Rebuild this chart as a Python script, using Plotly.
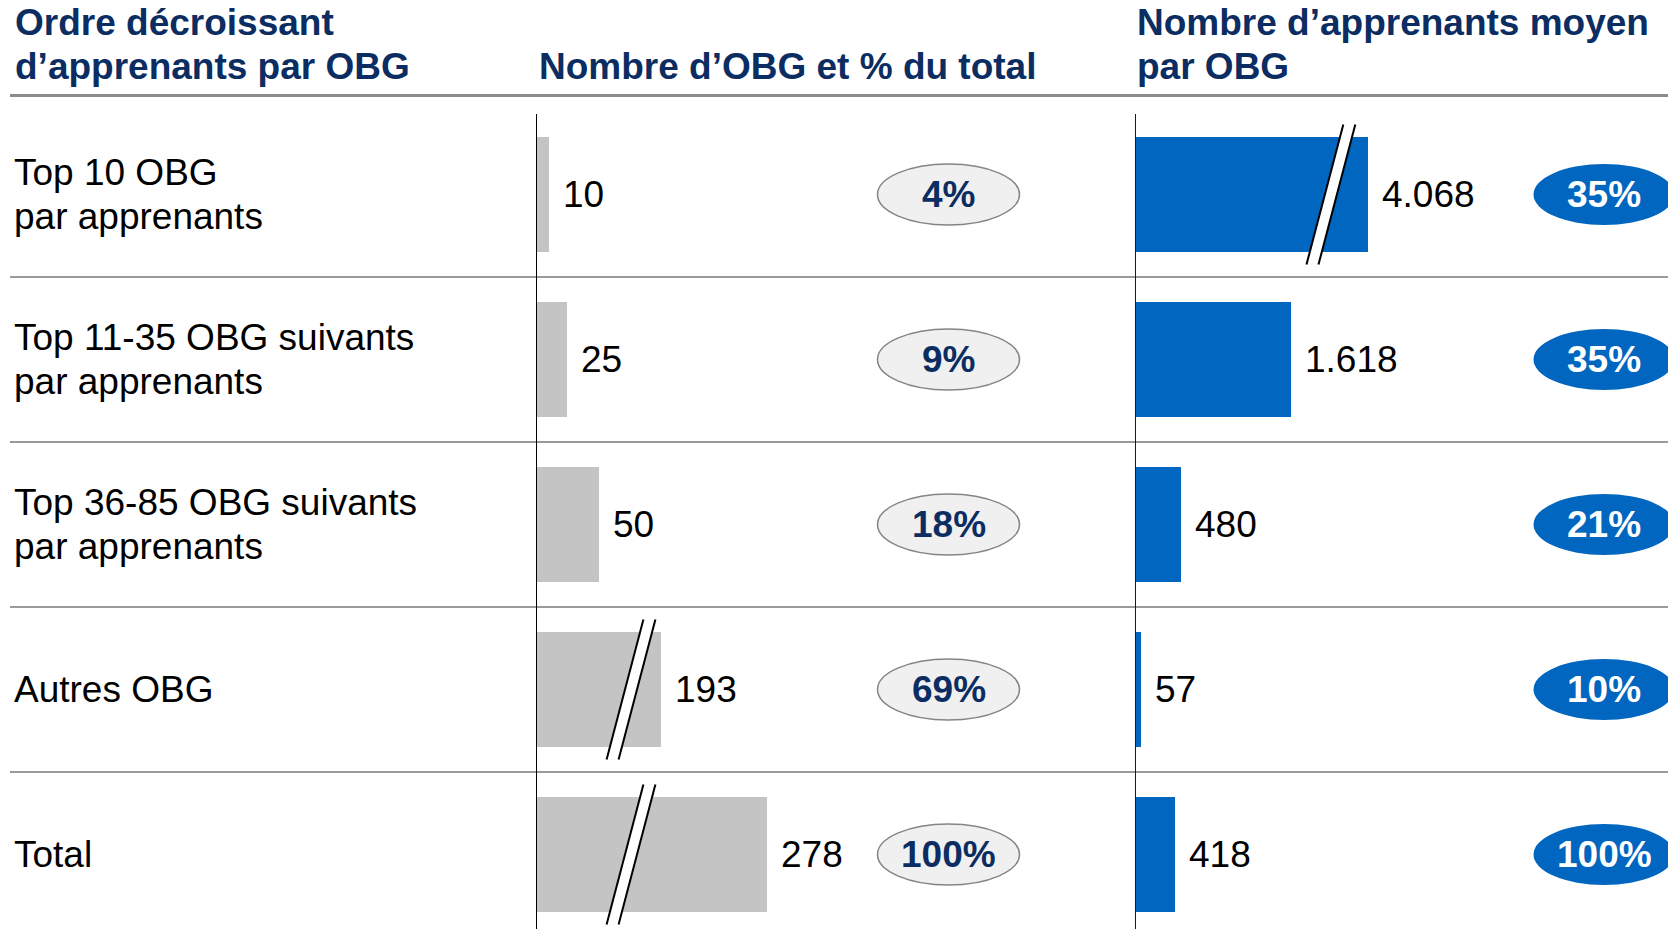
import plotly.graph_objects as go

# ---------------- data ----------------
categories = [
    "Top 10 OBG<br>par apprenants",
    "Top 11-35 OBG suivants<br>par apprenants",
    "Top 36-85 OBG suivants<br>par apprenants",
    "Autres OBG",
    "Total",
]
nb_obg = [10, 25, 50, 193, 278]
nb_obg_labels = ["10", "25", "50", "193", "278"]
pct_obg = ["4%", "9%", "18%", "69%", "100%"]

moy_apprenants = [4068, 1618, 480, 57, 418]
moy_labels = ["4.068", "1.618", "480", "57", "418"]
pct_apprenants = ["35%", "35%", "21%", "10%", "100%"]

headers = [
    "Ordre décroissant<br>d’apprenants par OBG",
    "Nombre d’OBG et % du total",
    "Nombre d’apprenants moyen<br>par OBG",
]

# ---------------- style ----------------
W, H = 1668, 929
TOP = 112
PLOT_H = H - TOP
FONT = "Arial, Liberation Sans, sans-serif"
NAVY = "#0B2D62"
GREY_BAR = "#C4C4C4"
BLUE = "#0066BF"

# axis breaks (where break is drawn, amount of axis removed)
MID_BREAK_AT, MID_GAP = 76, 93
RIGHT_BREAK_AT, RIGHT_GAP = 2030, 1653

def shown(v, at, gap):
    return v - gap if v > at + gap else v

mid_disp = [shown(v, MID_BREAK_AT, MID_GAP) for v in nb_obg]
right_disp = [shown(v, RIGHT_BREAK_AT, RIGHT_GAP) for v in moy_apprenants]

n = len(categories)
rows = list(range(n))

# positions in page pixels
MID_X0, MID_X1 = 536, 1100
MID_SCALE = 1.25
RIGHT_X0 = 1135
RIGHT_SCALE = 0.0965

def px2paper(px):
    return px / W

def py2paper(py):
    return (H - py) / PLOT_H

fig = go.Figure()
fig.add_trace(go.Bar(x=mid_disp, y=rows, orientation="h", width=0.7,
                     marker=dict(color=GREY_BAR, line=dict(width=0)),
                     xaxis="x", yaxis="y", hoverinfo="skip"))
fig.add_trace(go.Bar(x=right_disp, y=rows, orientation="h", width=0.7,
                     marker=dict(color=BLUE, line=dict(width=0)),
                     xaxis="x2", yaxis="y", hoverinfo="skip"))

shapes = []
annotations = []

# header separator
shapes.append(dict(type="line", xref="paper", yref="paper", x0=px2paper(10), x1=1,
                   y0=py2paper(95.5), y1=py2paper(95.5),
                   line=dict(color="#8C8C8C", width=3)))
# row separators
for k in range(n - 1):
    shapes.append(dict(type="line", xref="paper", yref="y", x0=px2paper(10), x1=1,
                       y0=k + 0.5, y1=k + 0.5, line=dict(color="#9A9A9A", width=2)))

# header texts
header_x = [13, 537, 1135]
for hx, htxt in zip(header_x, headers):
    lines = htxt.split("<br>")
    first_center = 67 - 44 * (len(lines) - 1)
    for j, ln in enumerate(lines):
        annotations.append(dict(xref="paper", yref="paper", x=px2paper(hx),
                                y=py2paper(first_center + 44 * j),
                                text="<b>%s</b>" % ln, showarrow=False, xanchor="left",
                                yanchor="middle",
                                font=dict(family=FONT, size=37, color=NAVY)))

# row labels
for i, cat in enumerate(categories):
    lines = cat.split("<br>")
    m = len(lines)
    for j, ln in enumerate(lines):
        annotations.append(dict(xref="paper", yref="y", x=px2paper(12), y=i,
                                yshift=((m - 1) / 2 - j) * 44,
                                text=ln, showarrow=False, xanchor="left", yanchor="middle",
                                font=dict(family=FONT, size=37, color="#000000")))

# value labels
for i in rows:
    annotations.append(dict(xref="x", yref="y", x=mid_disp[i], y=i, xshift=12,
                            text=nb_obg_labels[i], showarrow=False, xanchor="left",
                            yanchor="middle", font=dict(family=FONT, size=37, color="#000000")))
    annotations.append(dict(xref="x2", yref="y", x=right_disp[i], y=i, xshift=12,
                            text=moy_labels[i], showarrow=False, xanchor="left",
                            yanchor="middle", font=dict(family=FONT, size=37, color="#000000")))

# percentage ellipses
MID_ELL_X = (948.5 - MID_X0) / MID_SCALE
RIGHT_ELL_X = (1604 - RIGHT_X0) / RIGHT_SCALE
for i in rows:
    shapes.append(dict(type="circle", xref="x", yref="y", xsizemode="pixel", ysizemode="pixel",
                       xanchor=MID_ELL_X, yanchor=i, x0=-71, x1=71, y0=-30.5, y1=30.5,
                       fillcolor="#F0F0F0", line=dict(color="#858585", width=1.5)))
    annotations.append(dict(xref="x", yref="y", x=MID_ELL_X, y=i, text="<b>%s</b>" % pct_obg[i],
                            showarrow=False, xanchor="center", yanchor="middle",
                            font=dict(family=FONT, size=37, color=NAVY)))
    shapes.append(dict(type="circle", xref="x2", yref="y", xsizemode="pixel", ysizemode="pixel",
                       xanchor=RIGHT_ELL_X, yanchor=i, x0=-70.5, x1=70.5, y0=-30.5, y1=30.5,
                       fillcolor=BLUE, line=dict(width=0)))
    annotations.append(dict(xref="x2", yref="y", x=RIGHT_ELL_X, y=i,
                            text="<b>%s</b>" % pct_apprenants[i],
                            showarrow=False, xanchor="center", yanchor="middle",
                            font=dict(family=FONT, size=37, color="#FFFFFF")))

# break markers
def add_break(xref, at, row):
    h, d, s = 70, 18.4, 6
    poly = "M %f,%f L %f,%f L %f,%f L %f,%f Z" % (-s - d, -h, -s + d, h, s + d, h, s - d, -h)
    shapes.append(dict(type="path", xref=xref, yref="y", xsizemode="pixel", ysizemode="pixel",
                       xanchor=at, yanchor=row, path=poly, fillcolor="#FFFFFF",
                       line=dict(width=0)))
    for sx in (-s, s):
        shapes.append(dict(type="path", xref=xref, yref="y", xsizemode="pixel", ysizemode="pixel",
                           xanchor=at, yanchor=row,
                           path="M %f,%f L %f,%f" % (sx - d, -h, sx + d, h),
                           line=dict(color="#000000", width=2)))

for i in rows:
    if nb_obg[i] > MID_BREAK_AT + MID_GAP:
        add_break("x", MID_BREAK_AT, i)
    if moy_apprenants[i] > RIGHT_BREAK_AT + RIGHT_GAP:
        add_break("x2", RIGHT_BREAK_AT, i)

# vertical axis lines
axis_top = py2paper(114)
shapes.append(dict(type="line", xref="x", yref="paper", x0=0, x1=0, y0=0, y1=axis_top,
                   line=dict(color="#000000", width=2)))
shapes.append(dict(type="line", xref="x2", yref="paper", x0=0, x1=0, y0=0, y1=axis_top,
                   line=dict(color="#1A1A1A", width=2)))

pitch_units = PLOT_H / 165.0
fig.update_layout(
    width=W, height=H,
    margin=dict(l=0, r=0, t=TOP, b=0, pad=0),
    paper_bgcolor="white", plot_bgcolor="white",
    showlegend=False, bargap=0,
    xaxis=dict(domain=[px2paper(MID_X0), px2paper(MID_X1)],
               range=[0, (MID_X1 - MID_X0) / MID_SCALE],
               visible=False, fixedrange=True),
    xaxis2=dict(domain=[px2paper(RIGHT_X0), 1], range=[0, (W - RIGHT_X0) / RIGHT_SCALE],
                visible=False, anchor="y", fixedrange=True),
    yaxis=dict(range=[-0.5 + pitch_units, -0.5], visible=False, fixedrange=True),
    shapes=shapes,
    annotations=annotations,
)

fig.write_html(
    "out.html",
    config={"displayModeBar": False},
    post_script="document.body.style.margin='0';document.body.style.overflow='hidden';",
)
